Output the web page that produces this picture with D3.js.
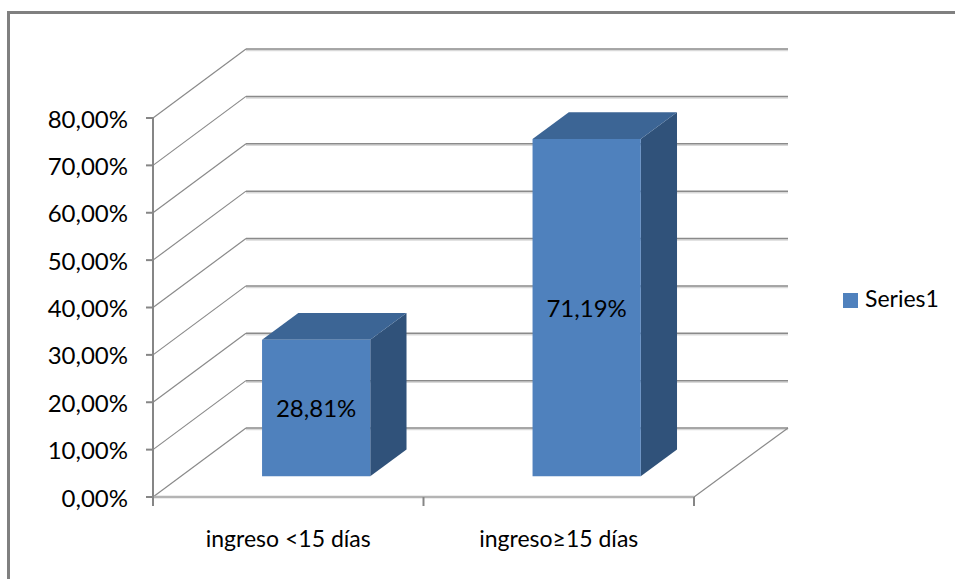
<!DOCTYPE html>
<html>
<head>
<meta charset="utf-8">
<script src="https://cdn.jsdelivr.net/npm/d3@7/dist/d3.min.js"></script>
<style>
  html, body { margin: 0; padding: 0; background: #fff; }
  svg { display: block; font-family: Lato, "Noto Sans", sans-serif; }
</style>
</head>
<body>
<svg id="chart" width="955" height="579"></svg>
<script>
// Share of admissions by length of stay
const categories = ["ingreso <15 días", "ingreso≥15 días"];
const seriesName = "Series1";
const values = [0.2881, 0.7119];
const tickValues = [0, 0.1, 0.2, 0.3, 0.4, 0.5, 0.6, 0.7, 0.8];
const tickLabels = ["0,00%", "10,00%", "20,00%", "30,00%", "40,00%", "50,00%", "60,00%", "70,00%", "80,00%"];
const valueLabels = ["28,81%", "71,19%"];

const svg = d3.select("#chart");

// Plot geometry (front plane of the 3-D box)
const plotLeft = 153, plotRight = 694, plotBottom = 497, plotTop = 118;
const depthDX = 93, depthDY = -69;       // offset from front plane to back wall
const barZ0 = 0.30, barZ1 = 0.69;       // bar depth within the box

const x = d3.scaleBand().domain(categories).range([plotLeft, plotRight])
  .paddingInner(0.6).paddingOuter(0.3);
const xAxisBand = d3.scaleBand().domain(categories).range([plotLeft, plotRight]);
const y = d3.scaleLinear().domain([0, 0.8]).range([plotBottom, plotTop]);

// project (screen x on front plane, screen y on front plane, depth 0..1)
const P = (px, py, z) => [px + depthDX * z, py + depthDY * z];

const gridColor = "#8a8a8a";
const gridShadow = "#d9d9d9";

// Outer frame
svg.append("path")
  .attr("d", "M8.5,579 L8.5,12.5 L955,12.5")
  .attr("fill", "none").attr("stroke", "#808080").attr("stroke-width", 3);

const walls = svg.append("g");

// Back-wall gridlines and left-wall diagonals
tickValues.forEach(t => {
  const [bx0, by] = P(plotLeft, y(t), 1);
  const [bx1] = P(plotRight, y(t), 1);
  walls.append("line").attr("x1", bx0).attr("x2", bx1 + 1)
    .attr("y1", by + 1.5).attr("y2", by + 1.5)
    .attr("stroke", gridShadow).attr("stroke-width", 1.5);
  walls.append("line").attr("x1", bx0).attr("x2", bx1 + 1)
    .attr("y1", by).attr("y2", by)
    .attr("stroke", gridColor).attr("stroke-width", 1.5);
  walls.append("line").attr("x1", plotLeft).attr("y1", y(t))
    .attr("x2", bx0).attr("y2", by)
    .attr("stroke", gridColor).attr("stroke-width", 1.2);
});

// Floor right edge and front edge
{
  const [fx, fy] = P(plotRight + 1, plotBottom, 1);
  walls.append("line").attr("x1", plotRight).attr("y1", plotBottom)
    .attr("x2", fx).attr("y2", fy)
    .attr("stroke", gridColor).attr("stroke-width", 1.2);
  walls.append("line").attr("x1", plotLeft).attr("x2", plotRight)
    .attr("y1", plotBottom).attr("y2", plotBottom)
    .attr("stroke", "#b4b4b4").attr("stroke-width", 2.5);
}

// Bars as 3-D boxes: front, top, side
const bars = svg.append("g");
const pts = a => a.map(p => p.join(",")).join(" ");
categories.forEach((c, i) => {
  const x0 = x(c), x1 = x(c) + x.bandwidth();
  const yb = y(0), yt = y(values[i]);
  const f = [P(x0, yt, barZ0), P(x1, yt, barZ0), P(x1, yb, barZ0), P(x0, yb, barZ0)];
  const tp = [P(x0, yt, barZ0), P(x0, yt, barZ1), P(x1, yt, barZ1), P(x1, yt, barZ0)];
  const sd = [P(x1, yt, barZ0), P(x1, yt, barZ1), P(x1, yb, barZ1), P(x1, yb, barZ0)];
  bars.append("polygon").attr("points", pts(sd)).attr("fill", "#30527a");
  bars.append("polygon").attr("points", pts(tp)).attr("fill", "#3c6595");
  bars.append("polygon").attr("points", pts(f)).attr("fill", "#4f81bd");

  const [cx] = P((x0 + x1) / 2, 0, barZ0);
  const cy = (f[0][1] + f[3][1]) / 2;
  bars.append("text").attr("x", cx).attr("y", cy + 9)
    .attr("text-anchor", "middle").attr("font-size", 24).attr("fill", "#000")
    .text(valueLabels[i]);
});

// Value axis
const axis = svg.append("g");
axis.append("line").attr("x1", plotLeft).attr("x2", plotLeft)
  .attr("y1", plotTop).attr("y2", plotBottom + 9)
  .attr("stroke", "#868686").attr("stroke-width", 2);
tickValues.forEach((t, i) => {
  axis.append("line").attr("x1", plotLeft - 7).attr("x2", plotLeft)
    .attr("y1", y(t)).attr("y2", y(t))
    .attr("stroke", "#868686").attr("stroke-width", 2);
  axis.append("text").attr("x", 128).attr("y", y(t) + 9.5)
    .attr("text-anchor", "end").attr("font-size", 24).attr("fill", "#000")
    .text(tickLabels[i]);
});

// Category axis ticks and labels
xAxisBand.domain().forEach((c, i) => {
  axis.append("line").attr("x1", xAxisBand(c) + xAxisBand.step()).attr("x2", xAxisBand(c) + xAxisBand.step())
    .attr("y1", plotBottom).attr("y2", plotBottom + 9)
    .attr("stroke", "#868686").attr("stroke-width", 2);
  axis.append("text")
    .attr("x", xAxisBand(c) + xAxisBand.bandwidth() / 2).attr("y", 547)
    .attr("text-anchor", "middle").attr("font-size", 23).attr("fill", "#000")
    .text(c);
});

// Legend
const legend = svg.append("g");
legend.append("rect").attr("x", 843).attr("y", 293).attr("width", 15).attr("height", 15)
  .attr("fill", "#4f81bd");
legend.append("text").attr("x", 865).attr("y", 307)
  .attr("font-size", 23).attr("fill", "#000").text(seriesName);
</script>
</body>
</html>
